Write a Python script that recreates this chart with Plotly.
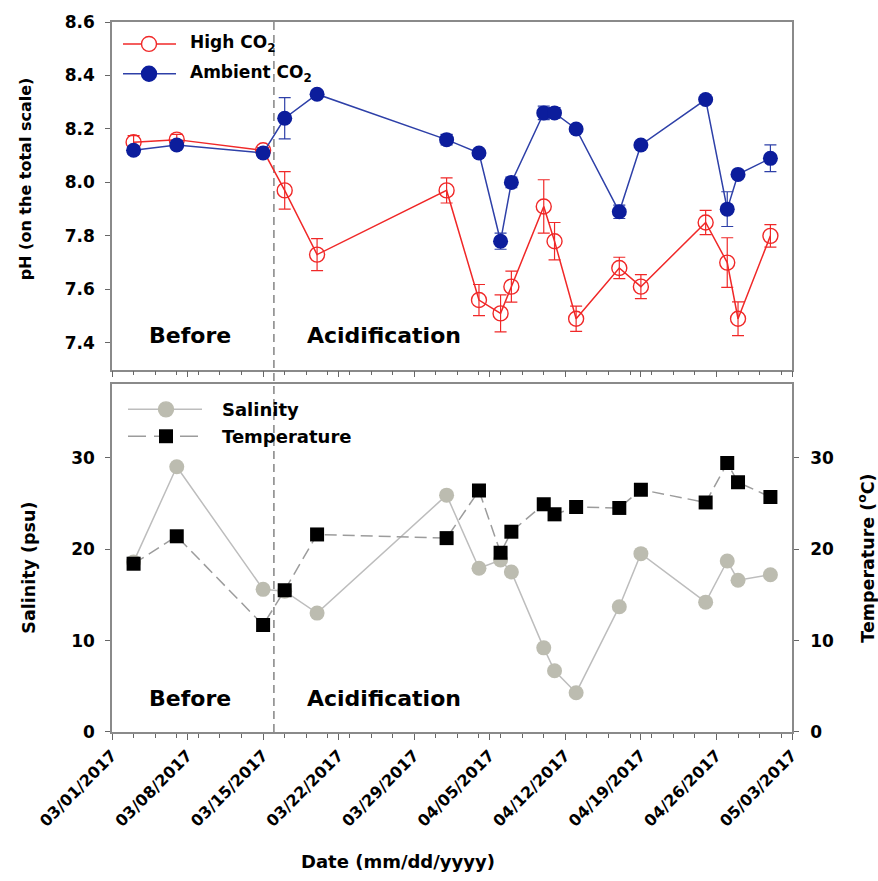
import plotly.graph_objects as go

# Sampling dates
dates = ["2017-03-03", "2017-03-07", "2017-03-15", "2017-03-17", "2017-03-20",
         "2017-04-01", "2017-04-04", "2017-04-06", "2017-04-07", "2017-04-10",
         "2017-04-11", "2017-04-13", "2017-04-17", "2017-04-19", "2017-04-25",
         "2017-04-27", "2017-04-28", "2017-05-01"]

# pH (total scale), mean and error
ph_high = [8.15, 8.16, 8.12, 7.97, 7.73, 7.97, 7.56, 7.51, 7.61, 7.91,
           7.78, 7.49, 7.68, 7.61, 7.85, 7.70, 7.49, 7.80]
ph_high_err = [0.025, 0.02, 0.01, 0.07, 0.06, 0.047, 0.058, 0.069, 0.058, 0.10,
               0.07, 0.047, 0.04, 0.045, 0.045, 0.093, 0.063, 0.042]
ph_amb = [8.12, 8.14, 8.11, 8.24, 8.33, 8.16, 8.11, 7.78, 8.00, 8.26,
          8.26, 8.20, 7.89, 8.14, 8.31, 7.90, 8.03, 8.09]
ph_amb_err = [0.015, 0.015, 0.015, 0.077, 0.01, 0.02, 0.01, 0.03, 0.02, 0.025,
              0.02, 0.01, 0.025, 0.01, 0.01, 0.065, 0.01, 0.05]

# Salinity (psu) and temperature (degC)
salinity = [18.6, 29.0, 15.6, 15.4, 13.0, 25.9, 17.9, 18.8, 17.5, 9.2,
            6.7, 4.3, 13.7, 19.5, 14.2, 18.7, 16.6, 17.2]
temperature = [18.4, 21.4, 11.7, 15.5, 21.6, 21.2, 26.4, 19.6, 21.9, 24.9,
               23.8, 24.6, 24.5, 26.5, 25.1, 29.4, 27.3, 25.7]

acidification_start = "2017-03-16"
x_range = ["2017-03-01", "2017-05-03"]

W, H = 878, 881
ML, MR, MT, MB = 112, 86, 19, 149
PW, PH = W - ML - MR, H - MT - MB


def px(xp):
    return (xp - ML) / PW


def py(yp):
    return (H - MB - yp) / PH


FONT = "DejaVu Sans"
RED = "#f02828"
BLUE_M = "#0c1d9c"
BLUE_L = "#2e40a8"
GREY_M = "#bcbcb0"
GREY_L = "#bdbdbd"
DASH_L = "#9c9c9c"
AXIS = "#8a8a8a"
TICK = "#666666"

fig = go.Figure()

fig.add_trace(go.Scatter(
    x=dates, y=ph_high, xaxis="x", yaxis="y", mode="lines+markers",
    line=dict(color=RED, width=1.5),
    marker=dict(symbol="circle-open", size=15, color=RED, line=dict(width=1.4)),
    error_y=dict(type="data", array=ph_high_err, color=RED, thickness=1.2, width=6),
    showlegend=False))
fig.add_trace(go.Scatter(
    x=dates, y=ph_amb, xaxis="x", yaxis="y", mode="lines+markers",
    line=dict(color=BLUE_L, width=1.5),
    marker=dict(symbol="circle", size=15, color=BLUE_M),
    error_y=dict(type="data", array=ph_amb_err, color=BLUE_L, thickness=1.2, width=6),
    showlegend=False))

fig.add_trace(go.Scatter(
    x=dates, y=salinity, xaxis="x2", yaxis="y2", mode="lines+markers",
    line=dict(color=GREY_L, width=1.5),
    marker=dict(symbol="circle", size=15, color=GREY_M),
    showlegend=False))
fig.add_trace(go.Scatter(
    x=dates, y=temperature, xaxis="x2", yaxis="y3", mode="lines+markers",
    line=dict(color=DASH_L, width=1.5, dash="12px,6px"),
    marker=dict(symbol="square", size=14, color="black"),
    showlegend=False))

axis_common = dict(showline=True, linecolor=AXIS, linewidth=1.5, showgrid=False,
                   zeroline=False, ticks="outside", tickcolor=TICK, tickwidth=1.2,
                   ticklen=5, tickfont=dict(family=FONT, size=17, color="black", weight="bold"))

week_ms = 7 * 86400000
xa = dict(axis_common, type="date", range=x_range, tick0="2017-03-01", dtick=week_ms,
          ticklen=6,
          minor=dict(dtick=2 * 86400000, tick0="2017-03-01", ticks="outside",
                     ticklen=4, tickcolor=TICK, tickwidth=1))

top_dom = [py(368), 1.0]
bot_dom = [0.0, py(383)]

fig.update_layout(
    width=W, height=H, margin=dict(l=ML, r=MR, t=MT, b=MB),
    plot_bgcolor="white", paper_bgcolor="white",
    font=dict(family=FONT, color="black"),
    xaxis=dict(xa, anchor="y", mirror=True, showticklabels=False),
    yaxis=dict(axis_common, domain=top_dom, anchor="x", range=[7.3, 8.6],
               tick0=7.4, dtick=0.2, tickformat=".1f", mirror=True,
               ticklabelstandoff=7),
    xaxis2=dict(xa, anchor="y2", mirror=True, tickformat="%m/%d/%Y", tickangle=-45,
                tickfont=dict(family=FONT, size=16, color="black", weight="bold")),
    yaxis2=dict(axis_common, domain=bot_dom, anchor="x2", range=[0, 38],
                tickvals=[0, 10, 20, 30], ticklabelstandoff=7),
    yaxis3=dict(axis_common, overlaying="y2", side="right", anchor="x2", range=[0, 38],
                tickvals=[0, 10, 20, 30], ticklabelstandoff=8),
)

# Start of acidification
fig.add_shape(type="line", xref="x", yref="paper", x0=acidification_start,
              x1=acidification_start, y0=0, y1=1,
              line=dict(color="#8c8c8c", width=1.6, dash="8px,5px"), layer="below")

ann = []


def text(xp, yp, s, size, anchor="left", angle=0):
    ann.append(dict(xref="paper", yref="paper", x=px(xp), y=py(yp), text=s,
                    showarrow=False, xanchor=anchor, yanchor="middle", textangle=angle,
                    font=dict(family=FONT, size=size, color="black", weight="bold")))


# Period labels
for yp in (334, 698):
    text(147, yp, "Before", 22)
    text(305, yp, "Acidification", 22)

# Axis titles
text(25, 177, "pH (on the total scale)", 16, anchor="center", angle=-90)
text(29, 567, "Salinity (psu)", 17.5, anchor="center", angle=-90)
text(866, 558, "Temperature (<sup>o</sup>C)", 17.5, anchor="center", angle=-90)
text(398, 862, "Date (mm/dd/yyyy)", 18, anchor="center")

# Legend, pH panel
def key_line(x0, x1, yp, color, dash=None):
    fig.add_shape(type="line", xref="paper", yref="paper", x0=px(x0), x1=px(x1),
                  y0=py(yp), y1=py(yp), line=dict(color=color, width=1.5, dash=dash))


def key_circle(xc, yc, r, line_color, fill):
    fig.add_shape(type="circle", xref="paper", yref="paper",
                  x0=px(xc - r), x1=px(xc + r), y0=py(yc + r), y1=py(yc - r),
                  line=dict(color=line_color, width=1.4), fillcolor=fill)


def key_square(xc, yc, h):
    fig.add_shape(type="rect", xref="paper", yref="paper",
                  x0=px(xc - h), x1=px(xc + h), y0=py(yc + h), y1=py(yc - h),
                  line=dict(color="black", width=0), fillcolor="black")


key_line(123, 176, 41, RED)
key_circle(149, 41, 7.5, RED, "white")
text(188, 41, "High CO<sub>2</sub>", 17)
key_line(123, 176, 71, BLUE_L)
key_circle(149, 71, 7.5, BLUE_M, BLUE_M)
text(188, 71, "Ambient CO<sub>2</sub>", 17)

# Legend, salinity/temperature panel
key_line(128, 202, 408, GREY_L)
key_circle(166, 408, 7.5, GREY_M, GREY_M)
text(220, 408, "Salinity", 18)
key_line(128, 202, 435, DASH_L, dash="18px,8px")
key_square(166, 435, 7)
text(220, 435, "Temperature", 18)

fig.update_layout(annotations=ann)
fig.write_html("out.html")
